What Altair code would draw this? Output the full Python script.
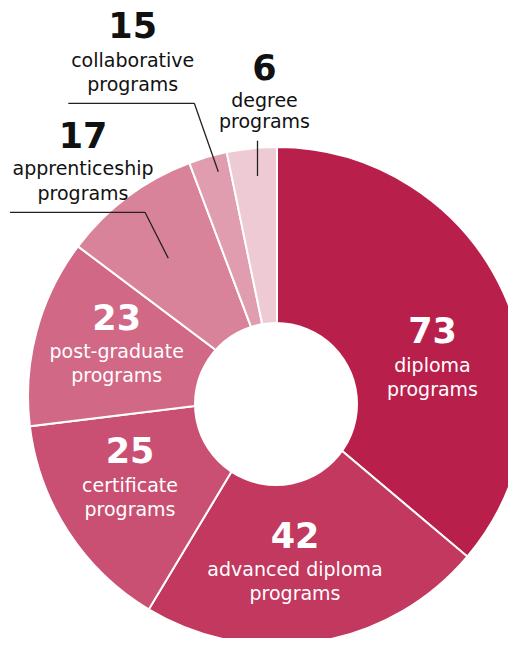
import altair as alt
import pandas as pd

# ---- data ----
categories = ["diploma", "advanced diploma", "certificate", "post-graduate",
              "apprenticeship", "collaborative", "degree"]
counts = [73, 42, 25, 23, 17, 15, 6]
# arc size as drawn in the picture (angles measured, expressed on the same 0-201 total)
slice_size = [72.6, 45.1, 29.0, 24.5, 18.1, 5.0, 6.5]
colors = ["#B91F4B", "#C2385E", "#C95072", "#D16886", "#D9839A", "#E09DB0", "#EDCAD4"]

# label layout (page pixels: centre x, baseline y of number, first text line)
label_lines = [["diploma", "programs"], ["advanced diploma", "programs"],
               ["certificate", "programs"], ["post-graduate", "programs"],
               ["apprenticeship", "programs"], ["collaborative", "programs"],
               ["degree", "programs"]]
label_x = [432.5, 295, 130, 116.7, 83, 132.7, 264.5]
label_num_y = [343.3, 548.3, 463.3, 330, 148, 38.3, 80]
label_gap = [28.5, 27.5, 28.5, 28.3, 27, 28.4, 27]
label_lead = [24, 24.3, 24, 24, 25, 24, 21]
label_inside = [True, True, True, True, False, False, False]

# leader lines (page pixels)
leaders = [(68.3, 103.3, 194.3, 103.3), (194.3, 103.3, 218.3, 171.7),
           (10, 212.3, 145, 212.3), (145, 212.3, 168.3, 258.3),
           (257.5, 140.7, 257.5, 176)]

OFF = 8  # page margin
CX, CY = 277 - OFF, 396 - OFF
HX, HY, HR = 276 - OFF, 404 - OFF, 82

slices = pd.DataFrame({"category": categories, "count": counts,
                       "size": slice_size, "idx": list(range(len(categories)))})

arcs = alt.Chart(slices).mark_arc(outerRadius=249, innerRadius=0,
                                  stroke="white", strokeWidth=2).encode(
    theta=alt.Theta("size:Q", stack=True),
    order=alt.Order("idx:Q", sort="ascending"),
    color=alt.Color("category:N", scale=alt.Scale(domain=categories, range=colors),
                    legend=None),
    x=alt.value(CX), y=alt.value(CY),
)

# symbol size in Vega is the area of the bounding square: (2r)^2
hole = alt.Chart(pd.DataFrame({"h": [0]})).mark_circle(
    size=4 * HR * HR, color="white", opacity=1).encode(
    x=alt.value(HX), y=alt.value(HY))

rules = alt.Chart(pd.DataFrame(
    [{"x": a - OFF, "y": b - OFF, "x2": c - OFF, "y2": d - OFF} for a, b, c, d in leaders]
)).mark_rule(color="#222222", strokeWidth=1.3).encode(
    x=alt.X("x:Q", scale=None), y=alt.Y("y:Q", scale=None),
    x2="x2:Q", y2="y2:Q")

num_rows, txt_rows = [], []
for i, c in enumerate(counts):
    col = "white" if label_inside[i] else "#111111"
    num_rows.append({"x": label_x[i] - OFF, "y": label_num_y[i] - OFF,
                     "t": str(c), "col": col})
    y0 = label_num_y[i] + label_gap[i]
    for j, line in enumerate(label_lines[i]):
        txt_rows.append({"x": label_x[i] - OFF, "y": y0 + j * label_lead[i] - OFF,
                         "t": line, "col": col})

nums = alt.Chart(pd.DataFrame(num_rows)).mark_text(
    font="DejaVu Sans", fontWeight="bold", fontSize=35, align="center",
    baseline="alphabetic").encode(
    x=alt.X("x:Q", scale=None), y=alt.Y("y:Q", scale=None), text="t:N",
    color=alt.Color("col:N", scale=None))

txts = alt.Chart(pd.DataFrame(txt_rows)).mark_text(
    font="DejaVu Sans", fontSize=19, align="center",
    baseline="alphabetic").encode(
    x=alt.X("x:Q", scale=None), y=alt.Y("y:Q", scale=None), text="t:N",
    color=alt.Color("col:N", scale=None))

chart = alt.layer(arcs, hole, rules, nums, txts).properties(
    width=500, height=630, padding=0,
    autosize=alt.AutoSizeParams(type="none"),
).configure_view(stroke=None)

chart.save("out.html", embed_options={"renderer": "svg", "actions": False})
